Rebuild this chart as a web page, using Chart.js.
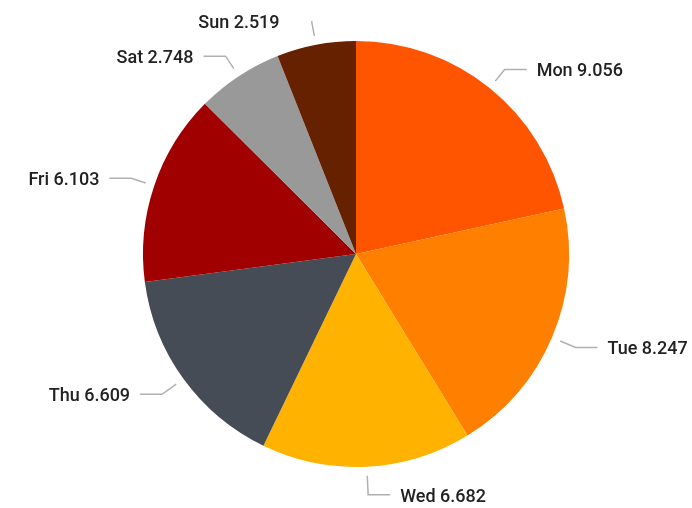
<!DOCTYPE html>
<html>
<head>
<meta charset="utf-8">
<script src="https://cdn.jsdelivr.net/npm/chart.js@4"></script>
<style>
html,body{margin:0;padding:0;background:#fff;}
#wrap{width:692px;height:508px;}
</style>
</head>
<body>
<div id="wrap"><canvas id="c" width="692" height="508"></canvas></div>
<script>
const categories = ['Mon', 'Tue', 'Wed', 'Thu', 'Fri', 'Sat', 'Sun'];
const values = [9.056, 8.247, 6.682, 6.609, 6.103, 2.748, 2.519];
const colors = ['#FF5500', '#FF8000', '#FFB300', '#464C55', '#A00000', '#999999', '#662200'];

const leaderLabels = {
  id: 'leaderLabels',
  afterDatasetsDraw(chart, args, opts) {
    const ctx = chart.ctx;
    const meta = chart.getDatasetMeta(0);
    ctx.save();
    ctx.font = opts.font;
    ctx.textBaseline = 'middle';
    meta.data.forEach((arc, i) => {
      const mid = (arc.startAngle + arc.endAngle) / 2;
      const dx = Math.cos(mid), dy = Math.sin(mid);
      const r = arc.outerRadius;
      const ext = 24 + 4 * Math.max(0, dy);
      const x1 = arc.x + (r + 9) * dx, y1 = arc.y + (r + 9) * dy;
      const x2 = arc.x + (r + ext) * dx, y2 = arc.y + (r + ext) * dy;
      const right = dx >= 0;
      const x3 = x2 + (right ? 22 : -22);
      ctx.strokeStyle = opts.lineColor;
      ctx.lineWidth = 1.5;
      ctx.beginPath();
      ctx.moveTo(x1, y1);
      ctx.lineTo(x2, y2);
      if (!opts.noElbow.includes(categories[i])) ctx.lineTo(x3, y2);
      ctx.stroke();
      const txt = categories[i] + ' ' + values[i].toFixed(3);
      ctx.fillStyle = opts.color;
      ctx.textAlign = right ? 'left' : 'right';
      ctx.fillText(txt, x3 + (right ? 10 : -10), y2 + 2.5);
    });
    ctx.restore();
  }
};

new Chart(document.getElementById('c'), {
  type: 'pie',
  data: {
    labels: categories,
    datasets: [{
      data: values,
      backgroundColor: colors,
      borderWidth: 0
    }]
  },
  options: {
    responsive: false,
    devicePixelRatio: 1,
    animation: false,
    layout: { padding: { top: 41, bottom: 41, left: 60, right: 40 } },
    plugins: {
      legend: { display: false },
      tooltip: { enabled: false },
      leaderLabels: {
        font: '500 18px Roboto',
        color: '#222222',
        lineColor: '#B0B0B0',
        noElbow: ['Sun']
      }
    }
  },
  plugins: [leaderLabels]
});
</script>
</body>
</html>
